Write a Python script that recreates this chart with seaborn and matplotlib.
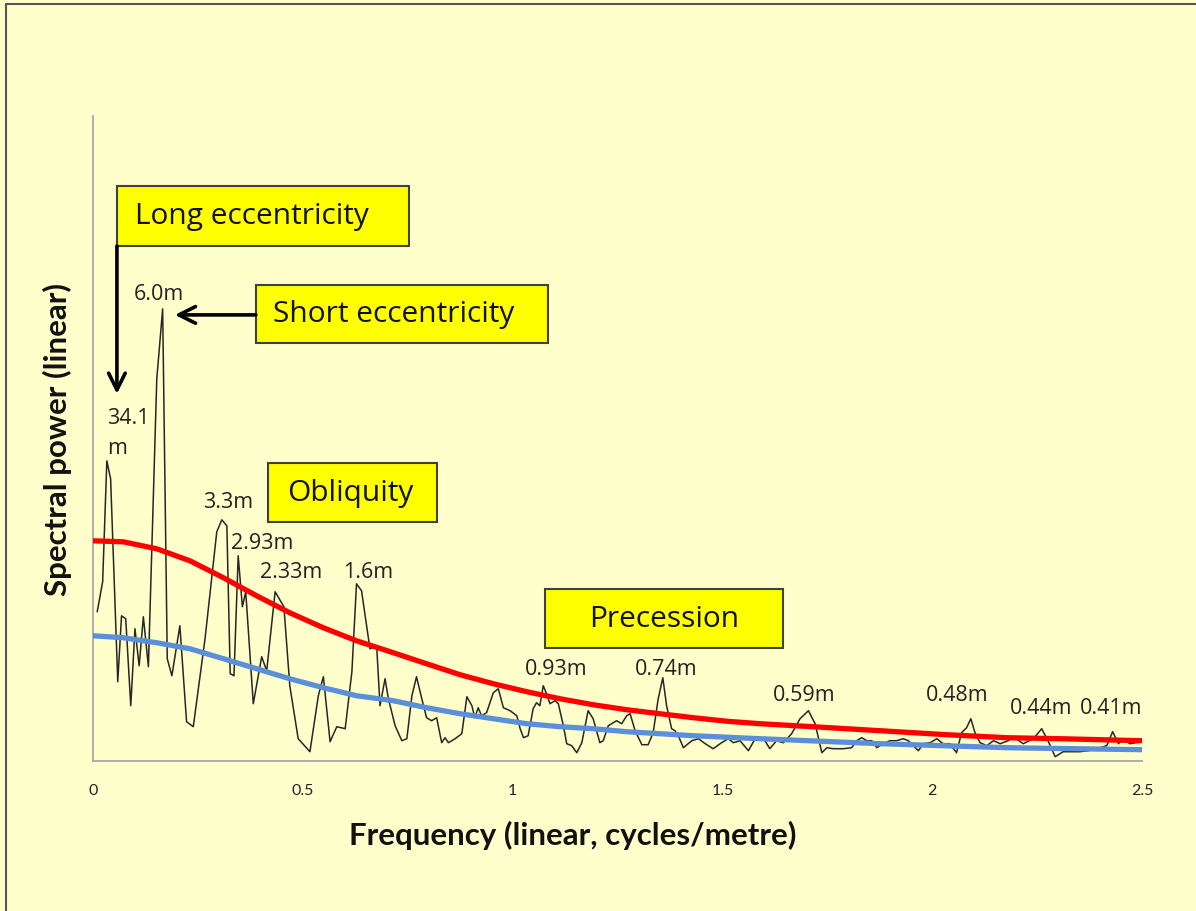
import numpy as np
import pandas as pd
import matplotlib
matplotlib.use("Agg")
import matplotlib.pyplot as plt
import seaborn as sns
from matplotlib.patches import Rectangle
from matplotlib.lines import Line2D

# ---------------- data ----------------
freq = [0.010, 0.023, 0.033, 0.042, 0.059, 0.068, 0.078, 0.090, 0.100, 0.110,
        0.120, 0.132, 0.152, 0.166, 0.177, 0.188, 0.207, 0.223, 0.239, 0.267,
        0.295, 0.307, 0.319, 0.327, 0.336, 0.346, 0.356, 0.364, 0.382, 0.402,
        0.414, 0.434, 0.455, 0.469, 0.489, 0.517, 0.537, 0.549, 0.565, 0.581,
        0.601, 0.617, 0.628, 0.640, 0.660, 0.676, 0.684, 0.696, 0.704, 0.720,
        0.736, 0.748, 0.760, 0.771, 0.783, 0.795, 0.807, 0.819, 0.831, 0.839,
        0.847, 0.863, 0.879, 0.891, 0.903, 0.910, 0.918, 0.926, 0.938, 0.954,
        0.966, 0.978, 0.994, 1.010, 1.018, 1.026, 1.037, 1.049, 1.057, 1.065,
        1.073, 1.081, 1.089, 1.101, 1.109, 1.121, 1.129, 1.141, 1.153, 1.165,
        1.180, 1.192, 1.208, 1.216, 1.228, 1.240, 1.248, 1.260, 1.272, 1.280,
        1.292, 1.308, 1.323, 1.335, 1.347, 1.358, 1.367, 1.379, 1.387, 1.395,
        1.407, 1.427, 1.443, 1.459, 1.478, 1.498, 1.514, 1.526, 1.542, 1.562,
        1.578, 1.597, 1.613, 1.629, 1.645, 1.665, 1.685, 1.705, 1.721, 1.737,
        1.749, 1.764, 1.788, 1.808, 1.820, 1.832, 1.844, 1.856, 1.868, 1.883,
        1.899, 1.915, 1.931, 1.943, 1.955, 1.967, 1.979, 1.995, 2.011, 2.026,
        2.042, 2.058, 2.070, 2.082, 2.092, 2.102, 2.114, 2.130, 2.146, 2.162,
        2.181, 2.193, 2.217, 2.241, 2.261, 2.277, 2.293, 2.312, 2.332, 2.352,
        2.372, 2.392, 2.416, 2.430, 2.444, 2.455, 2.471, 2.499]
power = [14.9, 17.9, 30.0, 28.2, 7.9, 14.5, 14.2, 5.5, 13.2, 9.5,
         14.4, 9.4, 38.2, 45.2, 10.2, 8.5, 13.5, 3.9, 3.4, 12.2,
         22.9, 24.1, 23.5, 8.7, 8.5, 20.5, 15.4, 16.9, 5.7, 10.4,
         9.0, 16.9, 15.4, 7.5, 2.2, 0.9, 6.5, 8.4, 1.9, 3.4,
         3.2, 8.9, 17.7, 17.0, 11.2, 11.5, 5.5, 8.2, 6.2, 3.5,
         2.0, 2.2, 6.5, 8.4, 6.3, 4.3, 4.0, 4.3, 1.8, 2.3,
         1.8, 2.2, 2.7, 6.4, 5.5, 4.3, 5.3, 4.5, 4.8, 6.8,
         7.2, 5.3, 5.0, 4.5, 3.2, 2.3, 2.5, 5.2, 5.8, 5.5,
         7.5, 6.7, 5.7, 6.0, 5.7, 3.5, 1.7, 1.5, 0.8, 1.8,
         5.0, 4.2, 1.8, 2.0, 3.5, 3.8, 4.0, 3.7, 4.5, 4.7,
         3.0, 1.6, 1.6, 2.8, 6.2, 8.3, 5.5, 3.2, 3.0, 2.5,
         1.3, 2.0, 2.2, 1.7, 1.2, 1.8, 2.2, 1.8, 2.0, 1.0,
         2.2, 2.3, 1.2, 2.0, 1.8, 2.7, 4.2, 5.0, 3.7, 0.8,
         1.3, 1.2, 1.2, 1.3, 2.0, 2.3, 2.0, 2.0, 1.3, 1.7,
         2.0, 2.0, 2.2, 2.0, 1.5, 1.0, 1.7, 1.8, 2.2, 1.7,
         1.7, 0.8, 2.8, 3.3, 4.2, 2.8, 1.8, 1.5, 2.0, 1.7,
         2.0, 2.4, 1.7, 2.2, 3.2, 1.9, 0.4, 0.9, 0.9, 0.9,
         1.0, 1.2, 1.5, 2.9, 1.7, 2.2, 1.7, 1.9]

red_freq = [0.0, 0.072, 0.152, 0.231, 0.311, 0.390, 0.469, 0.549, 0.628, 0.716,
            0.795, 0.875, 0.954, 1.034, 1.113, 1.192, 1.272, 1.351, 1.431, 1.510,
            1.590, 1.716, 1.876, 2.035, 2.178, 2.305, 2.5]
red_power = [22.0, 21.9, 21.2, 20.0, 18.3, 16.5, 14.8, 13.3, 12.0, 10.8,
             9.7, 8.6, 7.7, 6.9, 6.2, 5.6, 5.1, 4.7, 4.3, 3.95,
             3.7, 3.4, 3.0, 2.6, 2.3, 2.2, 2.0]

blue_freq = [0.0, 0.072, 0.152, 0.231, 0.311, 0.390, 0.469, 0.549, 0.628, 0.716,
             0.795, 0.875, 0.954, 1.034, 1.113, 1.192, 1.272, 1.351, 1.431, 1.590,
             1.876, 2.178, 2.5]
blue_power = [12.5, 12.3, 11.8, 11.2, 10.2, 9.2, 8.2, 7.3, 6.5, 6.0,
              5.3, 4.7, 4.2, 3.7, 3.4, 3.2, 2.9, 2.7, 2.5, 2.2,
              1.7, 1.3, 1.1]

peak_labels = ["6.0m", "3.3m", "2.93m", "2.33m", "1.6m", "0.93m", "0.74m",
               "0.59m", "0.48m", "0.44m", "0.41m"]
peak_label_x = [0.157, 0.322, 0.404, 0.471, 0.656, 1.103, 1.365, 1.695, 2.060, 2.259, 2.426]
peak_label_y = [46.7, 25.9, 21.8, 18.9, 18.9, 9.2, 9.2, 6.6, 6.6, 5.3, 5.3]

xticks = [0, 0.5, 1, 1.5, 2, 2.5]
xtick_labels = ["0", "0.5", "1", "1.5", "2", "2.5"]

# ---------------- style ----------------
sns.set_theme(style="white")
plt.rcParams['font.family'] = ['Open Sans', 'DejaVu Sans']

bg = "#FFFFCC"
W, H = 1196, 912
fig = plt.figure(figsize=(W / 100, H / 100), dpi=100, facecolor=bg)
ax = fig.add_axes([93 / W, 1 - 761.7 / H, 1049 / W, 644.7 / H])
ax.set_facecolor(bg)

df_black = pd.DataFrame({"freq": freq, "power": power})
df_red = pd.DataFrame({"freq": red_freq, "power": red_power})
df_blue = pd.DataFrame({"freq": blue_freq, "power": blue_power})

sns.lineplot(data=df_black, x="freq", y="power", ax=ax, color="#262626",
             lw=1.1, sort=False, estimator=None, zorder=2)
sns.lineplot(data=df_red, x="freq", y="power", ax=ax, color="#FF0000",
             lw=3.8, sort=False, estimator=None, zorder=3)
sns.lineplot(data=df_blue, x="freq", y="power", ax=ax, color="#5B8FDA",
             lw=3.8, sort=False, estimator=None, zorder=3)

ax.set_xlim(0, 2.5)
ax.set_ylim(0, 64.5)
ax.set_xticks(xticks)
ax.set_xticklabels(xtick_labels, fontfamily="Lato", fontsize=11.5, color="#222222")
ax.set_yticks([])
ax.tick_params(axis="x", length=0, pad=16)
for s in ["top", "right"]:
    ax.spines[s].set_visible(False)
for s in ["left", "bottom"]:
    ax.spines[s].set_color("#A8A8A8")
    ax.spines[s].set_linewidth(1.3)

ax.set_xlabel("Frequency (linear, cycles/metre)", fontfamily="Lato",
              fontweight="bold", fontsize=22.5, color="#111111")
ax.xaxis.set_label_coords((573 - 93) / 1049, (761.7 - 835) / 644.7)
ax.xaxis.label.set_va("center")
ax.set_ylabel("Spectral power (linear)", fontfamily="Lato",
              fontweight="bold", fontsize=22.5, color="#111111")
ax.yaxis.set_label_coords((57 - 93) / 1049, (761.7 - 440) / 644.7)
ax.yaxis.label.set_va("center")

# peak labels
for lab, lx, ly in zip(peak_labels, peak_label_x, peak_label_y):
    ax.text(lx, ly, lab, ha="center", va="center", fontsize=15.5,
            color="#222222", zorder=5)
ax.text(0.033, 32.8, "34.1\nm", ha="left", va="center", fontsize=15.5,
        color="#222222", linespacing=1.55, zorder=5)

# boxes
boxes = [
    ("Long eccentricity", 0.057, 51.5, 0.696, 6.0, 0.100, "left"),
    ("Short eccentricity", 0.388, 41.8, 0.696, 5.8, 0.429, "left"),
    ("Obliquity", 0.417, 23.9, 0.403, 5.9, 0.462, "left"),
    ("Precession", 1.077, 11.3, 0.567, 5.9, 1.361, "center"),
]
for txt, x0, y0, w, h, tx, ha in boxes:
    ax.add_patch(Rectangle((x0, y0), w, h, facecolor="#FFFF00",
                           edgecolor="#404040", lw=1.5, zorder=4))
    ax.text(tx, y0 + h / 2, txt, ha=ha, va="center", fontsize=21.5,
            color="#111111", zorder=5)

# arrows
ax.annotate("", xy=(0.057, 36.7), xytext=(0.057, 51.5),
            arrowprops=dict(arrowstyle="->", lw=2.6, color="black",
                            mutation_scale=30, shrinkA=0, shrinkB=0), zorder=5)
ax.annotate("", xy=(0.195, 44.6), xytext=(0.388, 44.6),
            arrowprops=dict(arrowstyle="->", lw=2.6, color="black",
                            mutation_scale=30, shrinkA=0, shrinkB=0), zorder=5)

# outer frame lines (left and top)
fig.add_artist(Line2D([6 / W, 6 / W], [0, 1 - 5 / H], transform=fig.transFigure,
                      color="#555555", lw=1.5))
fig.add_artist(Line2D([6 / W, 1], [1 - 5 / H, 1 - 5 / H], transform=fig.transFigure,
                      color="#555555", lw=1.5))

fig.savefig("out.png", dpi=100, facecolor=bg)
